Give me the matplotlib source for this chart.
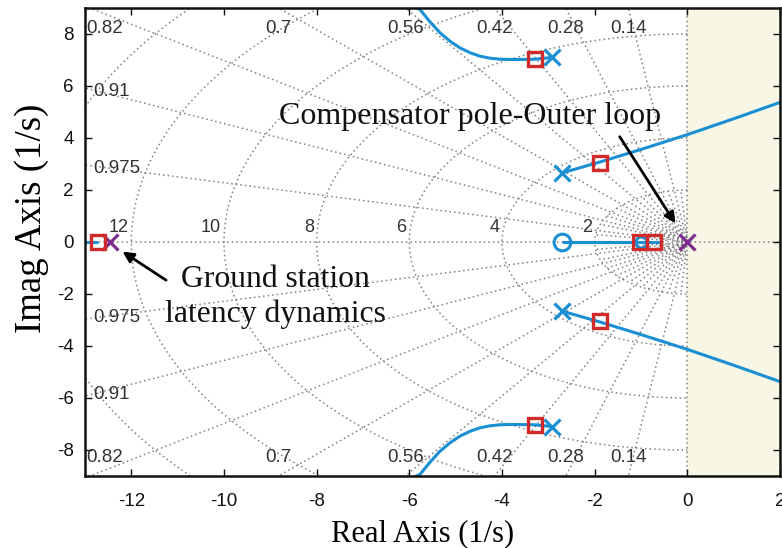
import numpy as np
import matplotlib
matplotlib.use("Agg")
import matplotlib.pyplot as plt

# ---- root locus data (upper half; conjugate halves are mirrored) ----
# complex pole pair branch 1 (departing toward the upper-left)
branch1_re = [-2.92, -3.29, -3.61, -3.83, -4.04, -4.26, -4.48, -4.69, -4.91,
              -5.12, -5.34, -5.56, -5.77, -5.97]
branch1_im = [7.10, 7.03, 7.02, 7.02, 7.03, 7.07, 7.15, 7.28, 7.47,
              7.72, 8.05, 8.48, 8.94, 9.10]
# complex pole pair branch 2 (crossing into the right half-plane)
branch2_re = [-2.70, -1.88, -1.00, 0.00, 1.00, 2.00]
branch2_im = [2.66, 3.08, 3.56, 4.13, 4.74, 5.37]
# real-axis segments
real_seg1 = [-2.70, -0.58]
real_seg2 = [-13.0, -12.72]

# open-loop poles / zeros
pole_re = [-2.92, -2.70]
pole_im = [7.10, 2.66]
zero_re = [-2.70, -1.00]
comp_pole_re = [0.0, -12.45]          # compensator / latency poles
# closed-loop poles at chosen gain
cl_cplx_re = [-3.29, -1.88]
cl_cplx_im = [7.03, 3.05]
cl_real = [-1.02, -0.73, -12.72]

# ---- s-plane grid ----
zeta_vals = [0.14, 0.28, 0.42, 0.56, 0.70, 0.82, 0.91, 0.975]
zeta_labels = ["0.14", "0.28", "0.42", "0.56", "0.7", "0.82", "0.91", "0.975"]
wn_vals = [2, 4, 6, 8, 10, 12, 14]
wn_labels = ["2", "4", "6", "8", "10", "12"]
zeta_inner = [0.07, 0.21, 0.35, 0.49, 0.63, 0.76, 0.865, 0.94, 0.99]
wn_inner = [0.1, 0.18, 0.27, 0.38]

xticks = [-12, -10, -8, -6, -4, -2, 0, 2]
yticks = [-8, -6, -4, -2, 0, 2, 4, 6, 8]

BLUE = "#1a8fd3"
RED = "#d02a2a"
PURPLE = "#7b2c8c"
GRID = "#808080"

sans = ["Liberation Sans", "DejaVu Sans"]
serif = ["Liberation Serif", "DejaVu Serif"]

fig = plt.figure(figsize=(7.82, 5.48), dpi=100)
ax = fig.add_axes([85 / 782, 72 / 548, 695 / 782, 468 / 548])
ax.set_xlim(-13, 2)
ax.set_ylim(-9, 9)

# unstable region shading
ax.axvspan(0, 2, color="#f8f6e5", zorder=0)

gkw = dict(color=GRID, lw=1.1, ls=(0, (1, 2)), zorder=1)
R = 30.0
for z in zeta_vals:
    s = np.sqrt(1 - z ** 2)
    ax.plot([0, -R * z], [0, R * s], **gkw)
    ax.plot([0, -R * z], [0, -R * s], **gkw)
for z in zeta_inner:
    s = np.sqrt(1 - z ** 2)
    ax.plot([-0.45 * z, -2 * z], [0.45 * s, 2 * s], **gkw)
    ax.plot([-0.45 * z, -2 * z], [-0.45 * s, -2 * s], **gkw)
th = np.linspace(np.pi / 2, 3 * np.pi / 2, 400)
for w in list(wn_vals) + list(wn_inner):
    ax.plot(w * np.cos(th), w * np.sin(th), **gkw)
ax.axhline(0, **gkw)
ax.axvline(0, **gkw)

# damping labels
lab_kw = dict(fontsize=13.5, color="#333333", family=sans, zorder=2)
for z, lab in zip(zeta_vals, zeta_labels):
    s = np.sqrt(1 - z ** 2)
    xt = -9 * z / s
    if xt >= -12.7:
        ax.text(xt, 8.2, lab, ha="center", va="center", **lab_kw)
        ax.text(xt, -8.3, lab, ha="center", va="center", **lab_kw)
    elif xt >= -13.6:
        ax.text(-12.58, 8.2, lab, ha="center", va="center", **lab_kw)
        ax.text(-12.58, -8.3, lab, ha="center", va="center", **lab_kw)
    else:
        yt = 13 * s / z
        ax.text(-12.82, yt - 0.15, lab, ha="left", va="center", **lab_kw)
        ax.text(-12.82, -yt + 0.05, lab, ha="left", va="center", **lab_kw)
for w, lab in zip(wn_vals, wn_labels):
    ax.text(-w - 0.06, 0.55, lab, ha="right", va="center", fontsize=13,
            color="#333333", family=sans, zorder=2)

# ---- locus branches ----
lkw = dict(color=BLUE, lw=2.2, zorder=3, solid_capstyle="butt",
           solid_joinstyle="round")
b1r = np.array(branch1_re); b1i = np.array(branch1_im)
b2r = np.array(branch2_re); b2i = np.array(branch2_im)
ax.plot(b1r, b1i, **lkw); ax.plot(b1r, -b1i, **lkw)
ax.plot(b2r, b2i, **lkw); ax.plot(b2r, -b2i, **lkw)
ax.plot(real_seg1, [0, 0], **lkw)
ax.plot(real_seg2, [0, 0], **lkw)

# open-loop poles and zeros
pr = np.array(pole_re); pi_ = np.array(pole_im)
ax.plot(np.r_[pr, pr], np.r_[pi_, -pi_], "x", color=BLUE, ms=11, mew=2.3, zorder=4)
ax.plot(zero_re[:1], [0], "o", color=BLUE, ms=12, mew=2.2, mfc="none", zorder=4)
ax.plot(zero_re[1:], [0], "o", color=BLUE, ms=8, mew=2.2, mfc="none", zorder=4)
ax.plot(comp_pole_re, [0, 0], "x", color=PURPLE, ms=11, mew=2.3, zorder=4)

# closed-loop poles
cr = np.array(cl_cplx_re); ci = np.array(cl_cplx_im)
skw = dict(marker="s", ls="none", color=RED, ms=10, mew=2.4, mfc="none", zorder=5)
ax.plot(np.r_[cr, cr], np.r_[ci, -ci], **skw)
ax.plot(cl_real, np.zeros(len(cl_real)), **skw)

# ---- annotations ----
akw = dict(arrowstyle="-|>", lw=2, color="black", mutation_scale=16,
           shrinkA=0, shrinkB=0)
ax.annotate("", xy=(-0.26, 0.72), xytext=(-1.46, 4.05), arrowprops=akw, zorder=6)
ax.annotate("", xy=(-12.19, -0.37), xytext=(-11.25, -1.47), arrowprops=akw, zorder=6)
ax.text(-4.69, 4.52, "Compensator pole-Outer loop", ha="center", va="baseline",
        fontsize=23, family=serif, color="#111111", zorder=6)
ax.text(-8.88, -1.74, "Ground station", ha="center", va="baseline",
        fontsize=22.8, family=serif, color="#111111", zorder=6)
ax.text(-8.88, -3.09, "latency dynamics", ha="center", va="baseline",
        fontsize=22.8, family=serif, color="#111111", zorder=6)

# ---- axes styling ----
ax.set_xticks(xticks)
ax.set_yticks(yticks)
ax.set_xticklabels([str(t) for t in xticks], family=sans, fontsize=13.5)
ax.set_yticklabels([str(t) for t in yticks], family=sans, fontsize=13.5)
ax.tick_params(direction="in", top=True, right=True, length=5, width=1,
               colors="#111111")
ax.tick_params(axis="x", pad=12)
ax.tick_params(axis="y", pad=8)
for sp in ax.spines.values():
    sp.set_linewidth(1.8)
    sp.set_color("#111111")
    sp.set_zorder(7)

ax.set_xlabel("Real Axis (1/s)", family=serif, fontsize=22)
ax.set_ylabel("Imag Axis (1/s)", family=serif, fontsize=26.5)
ax.xaxis.set_label_coords(0.486, -0.093)
ax.yaxis.set_label_coords(-0.076, 0.551)
ax.yaxis.label.set_va("center")

fig.savefig("out.png", dpi=100)
